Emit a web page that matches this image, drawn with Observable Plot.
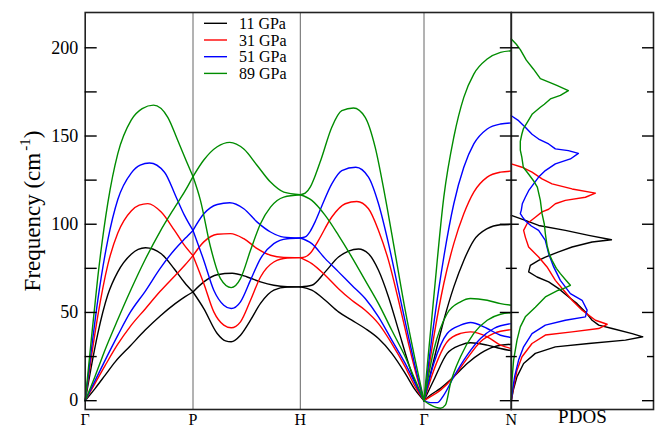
<!DOCTYPE html>
<html><head><meta charset="utf-8">
<script src="https://cdn.jsdelivr.net/npm/d3@7"></script>
<script src="https://cdn.jsdelivr.net/npm/@observablehq/plot@0.6"></script>
<style>
body{margin:0;background:#fff;}
#wrap{position:relative;width:659px;height:431px;overflow:hidden;font-family:"Liberation Serif","DejaVu Serif",serif;}
#wrap svg{position:absolute;left:0;top:0;}
#wrap svg text{font-family:"Liberation Serif","DejaVu Serif",serif;}
</style></head><body><div id="wrap"></div>
<script>
// ---- axis definitions ----
const kTicks = [0, 107.8, 215.1, 338.8, 426.1];
const kLabels = ["Γ", "P", "H", "Γ", "N"];
const yMajor = [0, 50, 100, 150, 200];
const yMinor = [25, 75, 125, 175];
const pressures = ["11 GPa", "31 GPa", "51 GPa", "89 GPa"];
const colors = ["#000000", "#ff0000", "#0000ff", "#008c00"];

// ---- dispersion branches: [branch, k, frequency] ----
const bands11 = [
 ["gp1",0,0],["gp1",6,19],["gp1",12.6,38],["gp1",22.6,60],["gp1",32.6,73],["gp1",46,83],["gp1",53,85.8],["gp1",60.3,86.7],["gp1",76,83.3],["gp1",89.3,74.5],["gp1",99.3,67],["gp1",107.8,61.6],
 ["gp2",0,0],["gp2",10,7],["gp2",20,14.5],["gp2",30,22],["gp2",45,31],["gp2",60,40],["gp2",75,48],["gp2",90,55],["gp2",100,59],["gp2",107.8,61.6],
 ["ph1",107.8,61.6],["ph1",118.6,67.3],["ph1",132,71.4],["ph1",147,72.2],["ph1",162,70.1],["ph1",175.3,67.3],["ph1",188.6,65.4],["ph1",202,64.6],["ph1",215.1,64.5],
 ["ph2",107.8,61.6],["ph2",118.6,52.2],["ph2",132,38.1],["ph2",140.3,33.9],["ph2",146,33.4],["ph2",155.3,37.1],["ph2",165.3,45.6],["ph2",175.3,55.1],["ph2",188.6,62.6],["ph2",202,64.4],["ph2",215.1,64.5],
 ["hg1",215.1,64.5],["hg1",226.6,65.4],["hg1",240,73],["hg1",253.3,81.4],["hg1",263.3,84.8],["hg1",273.3,86],["hg1",283.3,83.3],["hg1",293.3,73.9],["hg1",303.3,58.8],["hg1",313.3,40],["hg1",323.3,21.1],["hg1",331.6,7.9],["hg1",338.8,0],
 ["hg2",215.1,64.5],["hg2",226.6,62.6],["hg2",240,56.9],["hg2",253.3,50.3],["hg2",266.6,45.6],["hg2",280,40.9],["hg2",293.3,35.2],["hg2",306.6,26.8],["hg2",320,15.5],["hg2",330,6.1],["hg2",338.8,0],
 ["gn1",338.8,0],["gn1",348.6,23],["gn1",358.6,45.6],["gn1",368.6,64.5],["gn1",378.6,79.5],["gn1",388.6,90.9],["gn1",402,97.5],["gn1",415.3,99.7],["gn1",426.1,99.9],
 ["gn2",338.8,0],["gn2",348.6,11.7],["gn2",362,26.8],["gn2",375.3,31.5],["gn2",385.3,32.8],["gn2",402,31.5],["gn2",415.3,29.6],["gn2",426.1,28.3],
 ["gn3",338.8,0],["gn3",345.3,3.2],["gn3",355.3,7],["gn3",368.6,13.6],["gn3",382,21.1],["gn3",395.3,26.8],["gn3",408.6,30.5],["gn3",426.1,32]
];
const bands31 = [
 ["gp1",0,0],["gp1",6,24],["gp1",12.6,48],["gp1",22.6,77],["gp1",32.6,95],["gp1",46,107.5],["gp1",54,110.8],["gp1",62.6,111.7],["gp1",76,106.9],["gp1",89.3,96.5],["gp1",99.3,88],["gp1",107.8,82.2],
 ["gp2",0,0],["gp2",10,10],["gp2",20,20],["gp2",32.6,32],["gp2",45,42],["gp2",60,52],["gp2",75,62],["gp2",90,71],["gp2",100,77],["gp2",107.8,82.2],
 ["ph1",107.8,82.2],["ph1",118.6,90],["ph1",132,94.3],["ph1",145.3,94.7],["ph1",158.6,91.8],["ph1",172,86.2],["ph1",185.3,82.4],["ph1",198.6,81.2],["ph1",215.1,81.1],
 ["ph2",107.8,82.2],["ph2",118.6,66.4],["ph2",128.6,50.3],["ph2",138.6,42.8],["ph2",146,41.3],["ph2",155.3,44.7],["ph2",165.3,56.9],["ph2",175.3,70.1],["ph2",188.6,78.6],["ph2",202,80.9],["ph2",215.1,81.1],
 ["hg1",215.1,81.1],["hg1",220,81.5],["hg1",225,83.5],["hg1",233.3,90.9],["hg1",246.6,104.1],["hg1",260,111.6],["hg1",271.6,112.9],["hg1",283.3,108.8],["hg1",293.3,96.5],["hg1",303.3,79.5],["hg1",313.3,56.9],["hg1",323.3,32.4],["hg1",331.6,13.6],["hg1",338.8,0],
 ["hg2",215.1,81.1],["hg2",226.6,77.7],["hg2",240,71.1],["hg2",253.3,63.5],["hg2",266.6,56.9],["hg2",280,51.3],["hg2",293.3,43.7],["hg2",306.6,32.4],["hg2",320,19.2],["hg2",330,7.9],["hg2",338.8,0],
 ["gn1",338.8,0],["gn1",348.6,36.2],["gn1",358.6,66.4],["gn1",368.6,89],["gn1",378.6,105.9],["gn1",388.6,118.2],["gn1",402,126.7],["gn1",415.3,129.5],["gn1",426.1,130.1],
 ["gn2",338.8,0],["gn2",348.6,17.3],["gn2",362,33.4],["gn2",375.3,38.1],["gn2",385.3,39],["gn2",402,36.2],["gn2",415.3,31.5],["gn2",426.1,29.6],
 ["gn3",338.8,0],["gn3",345.3,2.3],["gn3",355.3,6],["gn3",368.6,13.6],["gn3",382,24],["gn3",395.3,33.4],["gn3",408.6,38.1],["gn3",426.1,40.3]
];
const bands51 = [
 ["gp1",0,0],["gp1",6,28],["gp1",12.6,57],["gp1",22.6,91],["gp1",32.6,114],["gp1",46,129],["gp1",55,133.5],["gp1",64.3,134.7],["gp1",79.3,129.5],["gp1",91,115.3],["gp1",99.3,105],["gp1",107.8,96.5],
 ["gp2",0,0],["gp2",10,11.5],["gp2",20,23],["gp2",32.6,37],["gp2",45,50],["gp2",60,62],["gp2",75,75],["gp2",90,86],["gp2",100,92],["gp2",107.8,96.5],
 ["ph1",107.8,96.5],["ph1",118.6,105.9],["ph1",132,111.2],["ph1",144.6,112.2],["ph1",158.6,108.8],["ph1",172,101.2],["ph1",185.3,95.6],["ph1",198.6,92.7],["ph1",215.1,92.2],
 ["ph2",107.8,96.5],["ph2",118.6,79.5],["ph2",128.6,62.6],["ph2",138.6,54.1],["ph2",146,52.2],["ph2",155.3,56],["ph2",165.3,68.3],["ph2",175.3,80.5],["ph2",188.6,89],["ph2",202,91.8],["ph2",215.1,92.2],
 ["hg1",215.1,92.2],["hg1",220,92.8],["hg1",225,96],["hg1",230,101.5],["hg1",236,109.5],["hg1",246.6,122.9],["hg1",256.6,130.4],["hg1",270.6,132.3],["hg1",283.3,126.7],["hg1",293.3,111.6],["hg1",303.3,89],["hg1",313.3,62.6],["hg1",323.3,36.2],["hg1",331.6,15.5],["hg1",338.8,0],
 ["hg2",215.1,92.2],["hg2",226.6,89],["hg2",240,80.5],["hg2",253.3,73],["hg2",266.6,65.4],["hg2",280,57.9],["hg2",293.3,47.5],["hg2",306.6,34.3],["hg2",320,21.1],["hg2",330,9.8],["hg2",338.8,0],
 ["gn1",338.8,0],["gn1",348.6,43.7],["gn1",358.6,81.4],["gn1",368.6,111.6],["gn1",378.6,132.3],["gn1",388.6,145.5],["gn1",402,154],["gn1",415.3,156.8],["gn1",426.1,157.4],
 ["gn2",338.8,0],["gn2",348.6,21.1],["gn2",362,38.1],["gn2",375.3,42.8],["gn2",385.3,44.3],["gn2",402,40.9],["gn2",415.3,37.1],["gn2",426.1,35.8],
 ["gn3",338.8,0],["gn3",345.3,-1.1],["gn3",352,-1.1],["gn3",358.6,3.2],["gn3",368.6,13.6],["gn3",382,25.8],["gn3",395.3,35.2],["gn3",408.6,40.9],["gn3",426.1,43.7]
];
const bands89 = [
 ["gp1",0,0],["gp1",6,34],["gp1",12.6,70],["gp1",22.6,112],["gp1",32.6,140],["gp1",46,159],["gp1",57,165.5],["gp1",68.3,167.5],["gp1",82.6,160.6],["gp1",92.6,147.4],["gp1",101,136],["gp1",107.8,127],
 ["gp2",0,0],["gp2",10,14],["gp2",20,29],["gp2",32.6,46],["gp2",45,62],["gp2",60,80],["gp2",75,96],["gp2",90,110],["gp2",100,119],["gp2",107.8,127],
 ["ph1",107.8,127],["ph1",118.6,136.4],["ph1",132,143.9],["ph1",144.6,146.4],["ph1",158.6,142.6],["ph1",172,133.3],["ph1",185.3,123.9],["ph1",198.6,118.2],["ph1",215.1,116.7],
 ["ph2",107.8,127],["ph2",115.3,113.4],["ph2",125.3,87.1],["ph2",135.3,69.2],["ph2",146,64.1],["ph2",155.3,69.2],["ph2",165.3,85.2],["ph2",175.3,100.3],["ph2",185.3,109.7],["ph2",198.6,115.4],["ph2",215.1,116.7],
 ["hg1",215.1,116.7],["hg1",220,117.6],["hg1",225,121],["hg1",230,127.5],["hg1",236,137],["hg1",246.6,155],["hg1",256.6,164.4],["hg1",268.3,165.9],["hg1",280,160.6],["hg1",290,143.6],["hg1",300,115.4],["hg1",310,83.4],["hg1",320,51.3],["hg1",330,23],["hg1",338.8,0],
 ["hg2",215.1,116.7],["hg2",226.6,113.5],["hg2",240,105],["hg2",253.3,93.7],["hg2",266.6,81.4],["hg2",280,68.2],["hg2",293.3,55],["hg2",306.6,39.9],["hg2",320,24.9],["hg2",330,11.7],["hg2",338.8,0],
 ["gn1",338.8,0],["gn1",348.6,58.8],["gn1",358.6,115.4],["gn1",368.6,149.3],["gn1",378.6,171.9],["gn1",388.6,185.1],["gn1",402,193.6],["gn1",415.3,197.4],["gn1",426.1,198.3],
 ["gn2",338.8,0],["gn2",348.6,28.7],["gn2",362,49.4],["gn2",375.3,56],["gn2",385.3,57.9],["gn2",402,56.9],["gn2",415.3,55],["gn2",426.1,54.1],
 ["gn3",338.8,0],["gn3",345.3,-2.4],["gn3",355.3,-4.3],["gn3",360.3,-2.4],["gn3",365.3,9.8],["gn3",375.3,24.9],["gn3",388.6,38.1],["gn3",402,45.6],["gn3",415.3,49],["gn3",426.1,49.8]
];

// ---- phonon DOS: [density (arb.), frequency] ----
const pdos11 = [[0,105],[14,102.2],[27.3,99.3],[54,96.5],[77.3,93.7],[100,91.2],[80.7,89.9],[60.7,87.1],[47.3,84.3],[34,81.4],[27.3,79.5],[19,76.7],[17.3,73],[25.7,70.1],[37.3,67.3],[47.3,63.5],[57.3,58.8],[65.7,55],[74,50.3],[80.7,45.6],[87.3,42.8],[100.7,40.9],[120.7,38],[131.3,36.2],[114,34.3],[77.3,32.4],[44,30.5],[24,26.8],[12.3,21.1],[5.7,13.6],[2,6],[0,0]];
const pdos31 = [[0,134.2],[10.7,132.3],[20.7,129.5],[30.7,125.7],[40.7,122.9],[60.7,120],[84,117.6],[74,115.3],[54,113.5],[44,111.6],[37.3,108.5],[30.7,107],[24,104],[15.7,100.3],[12.3,96.5],[14,92.7],[17.3,87.1],[27.3,81.4],[35.7,75.8],[44,68.2],[52.3,62.6],[60.7,56.9],[70.7,51.3],[84,45.6],[95.7,43.3],[87.3,40.9],[60.7,39],[34,37.2],[20.7,32.4],[10.7,24.9],[5.7,17.3],[2.3,7.9],[0,0]];
const pdos51 = [[0,161.5],[7.3,158.7],[14,155],[20.7,151],[27.3,148.3],[37.3,145.5],[44,142.7],[57,141.7],[67,140.2],[59,137],[44,134.2],[34,130.4],[27.3,126.7],[22.3,122.9],[17.3,119],[14,115.3],[11,111.6],[10,108],[9,106],[11.3,104],[14,102],[20,99],[27.3,96.5],[34,90.8],[37.3,83.3],[42.3,75.8],[49,68.2],[59,60.7],[70.7,56.9],[75.7,51.3],[74,47.5],[54,45.6],[34,42.8],[20.7,38],[12.3,30.5],[7.3,23],[3.3,13.6],[1.3,6],[0,0]];
const pdos89 = [[0,205],[5,202],[9,199],[15,193],[22,188],[29,182.5],[40,180],[46,178.5],[52,177],[57,175.7],[49,173],[39,171],[33,168],[29,166.3],[21,162.5],[17,158.7],[12,154],[10.5,151],[9,147],[9,142],[10.5,138],[12,132.3],[17,128.6],[22,124.8],[26,121],[29,113.5],[30.7,106],[33,100],[34,94.6],[35.7,88],[38,83],[40.7,79.5],[45,75],[49,72],[55,68],[59,65.4],[52,63.5],[47,62.6],[34,58.8],[24,53],[14,47.5],[9,41.8],[5.7,34.3],[2.3,23],[0.7,11.7],[0,0]];

// ---- build tables ----
const bandSets = [bands11, bands31, bands51, bands89];
const pdosSets = [pdos11, pdos31, pdos51, pdos89];
const bands = bandSets.flatMap((rows, i) => rows.map(([b, k, v]) => ({p: pressures[i], id: pressures[i] + b, k, v})));
const dos = pdosSets.flatMap((rows, i) => rows.map(([d, f]) => ({p: pressures[i], d, f})));

const serif = "Liberation Serif, DejaVu Serif, serif";
const W = 659, H = 431;
const common = {
  width: W, height: H, marginTop: 12, marginBottom: 22,
  style: {fontFamily: serif, background: "transparent", overflow: "visible", color: "#000"},
  color: {domain: pressures, range: colors}
};
const yDom = [-5, 220];
const tickOpts = {strokeWidth: 1.4, tickFormat: () => "", label: null};

const main = Plot.plot({
  ...common,
  marginLeft: 84.7, marginRight: W - 510.8,
  x: {domain: [0, 426.1], axis: null},
  y: {domain: yDom, axis: null},
  marks: [
    Plot.ruleX(kTicks.slice(1, 4), {stroke: "#666", strokeWidth: 1}),
    Plot.line(bands, {x: "k", y: "v", z: "id", stroke: "p", curve: "monotone-x", strokeWidth: 1.4}),
    Plot.frame({stroke: "#222", strokeWidth: 1.6}),
    Plot.axisY(yMajor, {anchor: "left", tickSize: 0, tickPadding: 7, fontSize: 18, fontFamily: serif, label: null}),
    Plot.axisY(yMajor, {anchor: "left", tickSize: -12, ...tickOpts}),
    Plot.axisY(yMinor, {anchor: "left", tickSize: -12, ...tickOpts}),
    Plot.axisY(yMajor, {anchor: "right", tickSize: -12, ...tickOpts}),
    Plot.axisY(yMinor, {anchor: "right", tickSize: -6, ...tickOpts}),
    Plot.axisX(kTicks, {anchor: "bottom", tickSize: 0, tickPadding: 4, fontSize: 16, fontFamily: serif, tickFormat: d => kLabels[kTicks.indexOf(d)], label: null})
  ]
});

const side = Plot.plot({
  ...common,
  marginLeft: 510.8, marginRight: 6,
  x: {domain: [0, 142], axis: null},
  y: {domain: yDom, axis: null},
  marks: [
    Plot.line(dos, {x: "d", y: "f", z: "p", stroke: "p", strokeWidth: 1.4}),
    Plot.frame({stroke: "#222", strokeWidth: 1.6}),
    Plot.axisY(yMajor, {anchor: "left", tickSize: -8, ...tickOpts}),
    Plot.axisY(yMinor, {anchor: "left", tickSize: -6, ...tickOpts}),
    Plot.axisY(yMajor, {anchor: "right", tickSize: -12, ...tickOpts}),
    Plot.axisY(yMinor, {anchor: "right", tickSize: -7, ...tickOpts}),
    Plot.text(["PDOS"], {frameAnchor: "bottom", dy: 13, fontSize: 19, fontFamily: serif, fill: "#000"})
  ]
});

const wrap = document.getElementById("wrap");
wrap.appendChild(main);
wrap.appendChild(side);

// y-axis title with superscript
const svg = d3.select(main);
const t = svg.append("text")
  .attr("transform", "translate(40,211) rotate(-90)")
  .attr("text-anchor", "middle")
  .style("font-family", serif).style("font-size", "23px").attr("fill", "#000");
t.append("tspan").text("Frequency (cm");
t.append("tspan").style("font-size", "15px").attr("dy", -10).attr("dx", 2).text("-1");
t.append("tspan").attr("dy", 10).text(")");

// legend
const lg = svg.append("g").style("font-family", serif).style("font-size", "16px");
pressures.forEach((p, i) => {
  const y = 23.3 + i * 16.7;
  lg.append("line").attr("x1", 204).attr("x2", 227).attr("y1", y).attr("y2", y)
    .attr("stroke", colors[i]).attr("stroke-width", 1.4);
  lg.append("text").attr("x", 239).attr("y", y).attr("dy", "0.35em")
    .attr("text-anchor", "start").attr("fill", "#000").text(p);
});
</script></body></html>
